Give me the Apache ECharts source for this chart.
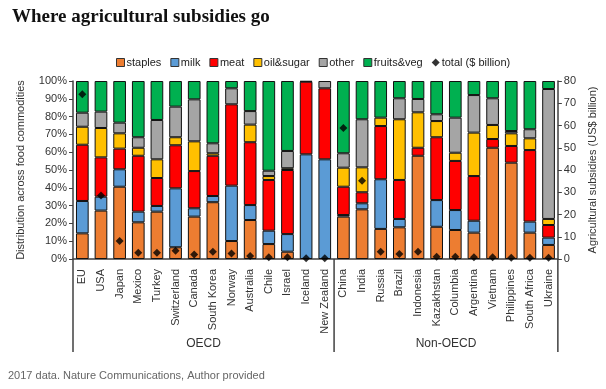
<!DOCTYPE html>
<html>
<head>
<meta charset="utf-8">
<script src="https://cdn.jsdelivr.net/npm/echarts@6/dist/echarts.min.js"></script>
<style>
html,body{margin:0;padding:0;background:#fff;}
#c{width:606px;height:389px;}
</style>
</head>
<body>
<div id="c"></div>
<script>
const countries = ['EU','USA','Japan','Mexico','Turkey','Switzerland','Canada','South Korea','Norway','Australia','Chile','Israel','Iceland','New Zealand',
  'China','India','Russia','Brazil','Indonesia','Kazakhstan','Columbia','Argentina','Vietnam','Philippines','South Africa','Ukraine'];
const oecdCount = 14;
const staples   = [14.4,27.2,40.6,20.6,26.6, 6.6,23.8,31.9,10.1,21.9, 8.4, 4.1, 0, 0,  23.8,27.9,16.9,17.8,58.0,18.1,16.3,14.8,62.5,54.1,14.8, 7.9];
const milk      = [18.2, 7.8, 9.8, 6.0, 3.2,33.1, 4.7, 3.5,31.1, 8.4, 7.5, 9.9,58.8,56.0, 0.9, 3.4,27.9, 4.7, 0,  15.0,11.2, 6.7, 0,   0,   6.2, 4.1];
const meat      = [31.6,22.1,11.6,31.4,15.7,24.2,20.9,22.6,45.7,35.3,28.5,36.0,40.8,39.9,15.9, 6.2,29.9,21.9, 4.5,35.3,27.6,25.1, 4.9, 9.4,40.2, 7.1];
const oilSugar  = [10.1,16.5, 8.6, 4.5,10.5, 4.5,16.7, 1.4, 0,   9.9, 2.2, 1.0, 0,   0,  10.7,14.0, 4.7,34.1,19.9, 9.1, 4.6,24.4, 7.9, 7.1, 6.6, 3.4];
const other     = [ 7.9, 9.2, 6.0, 5.9,22.1,17.2,23.6, 5.6, 9.0, 7.6, 3.0, 9.7, 0.4, 4.1, 8.1,27.0, 0,  11.8, 7.5, 3.8,19.7,21.1,15.0, 1.3, 5.1,73.0];
const fruitsVeg = [17.8,17.2,23.4,31.6,21.9,14.4,10.3,35.0, 4.1,16.9,50.4,39.3, 0,   0,  40.6,21.5,20.6, 9.7,10.1,18.7,20.6, 7.9, 9.7,28.1,27.1, 4.5];
const totals    = [74.0,28.5, 8.1, 2.8, 2.8, 3.7, 2.0, 3.3, 2.5, 1.3, 0.8, 0.8, 0.3, 0.3,58.9,35.2, 3.3, 2.2, 3.3, 1.0, 1.0, 0.8, 0.8, 0.6, 0.6, 0.6];
const pctTicks = [0,10,20,30,40,50,60,70,80,90,100];
const usdTicks = [0,10,20,30,40,50,60,70,80];

const barSeries = [
  ['staples', staples, '#ED7D31'],
  ['milk', milk, '#5B9BD5'],
  ['meat', meat, '#FF0000'],
  ['oil&sugar', oilSugar, '#FFC000'],
  ['other', other, '#A5A5A5'],
  ['fruits&veg', fruitsVeg, '#00B050']
];
const axisColor = '#404040';
const txt = '#333';
const font = 'Liberation Sans, Arial, sans-serif';

const chart = echarts.init(document.getElementById('c'), null, {renderer:'canvas'});
const series = barSeries.map(([name, arr, color]) => ({
  name, type:'bar', stack:'s', barWidth:'68%',
  data: arr.map(v => v === 0 ? '-' : v),
  itemStyle:{color, borderColor:'#111', borderWidth:1},
  emphasis:{disabled:true}
}));
series.push({
  name:'total ($ billion)', type:'scatter', yAxisIndex:1,
  symbol:'diamond', symbolSize:8, data: totals,
  itemStyle:{color:'#000'}, z:10
});

chart.setOption({
  animation:false,
  textStyle:{fontFamily:font},
  title:[
    {text:'Where agricultural subsidies go', left:7, top:3,
     textStyle:{fontFamily:'Liberation Serif, serif', fontWeight:'bold', fontSize:19, color:'#111'}},
    {text:'2017 data. Nature Communications, Author provided', left:3, top:365,
     textStyle:{fontFamily:font, fontWeight:'normal', fontSize:11, color:'#666'}}
  ],
  legend:{
    left:111, top:52, itemWidth:8, itemHeight:8, itemGap:9,
    textStyle:{fontSize:11, color:'#222', fontFamily:font, padding:[0,0,0,-3]},
    data:[
      ...barSeries.map(([n]) => ({name:n, icon:'rect', itemStyle:{borderColor:'#333', borderWidth:1}})),
      {name:'total ($ billion)', icon:'diamond'}
    ]
  },
  grid:{left:73, right:46, top:81, bottom:130},
  xAxis:{
    type:'category', data:countries,
    axisLine:{lineStyle:{color:axisColor, width:1.5}},
    axisTick:{show:false},
    axisLabel:{rotate:90, fontSize:11, color:txt, margin:10, interval:0}
  },
  yAxis:[
    {type:'value', min:0, max:100, interval:10,
     name:'Distribution across food commodities', nameLocation:'middle', nameRotate:90, nameGap:47,
     nameTextStyle:{fontSize:11, color:txt},
     axisLine:{show:true, lineStyle:{color:axisColor, width:1.5}},
     axisTick:{show:true, length:4, lineStyle:{color:axisColor}},
     splitLine:{show:false},
     axisLabel:{fontSize:11, color:txt, margin:6,
       customValues: pctTicks, formatter: v => v + '%'}},
    {type:'value', min:0, max:80, interval:10, position:'right',
     name:'Agricultural subsidies (US$ billion)', nameLocation:'middle', nameRotate:90, nameGap:27,
     nameTextStyle:{fontSize:11, color:txt},
     axisLine:{show:true, lineStyle:{color:axisColor, width:1.5}},
     axisTick:{show:true, length:4, lineStyle:{color:axisColor}},
     splitLine:{show:false},
     axisLabel:{fontSize:11, color:txt, margin:6, customValues: usdTicks}}
  ],
  series
});

// group separators and labels, positioned from the axis scale
const px = i => chart.convertToPixel({xAxisIndex:0}, i);
const yBase = chart.convertToPixel({yAxisIndex:0}, 0);
const step = px(1) - px(0);
const xLeft = px(0) - step/2;
const xRight = px(countries.length-1) + step/2;
const xSep = (px(oecdCount-1) + px(oecdCount)) / 2;
const yEnd = 352;
const lineStyle = {stroke:axisColor, lineWidth:1.5};
chart.setOption({
  graphic:[
    {type:'line', shape:{x1:xLeft, y1:yBase, x2:xLeft, y2:yEnd}, style:lineStyle, silent:true},
    {type:'line', shape:{x1:xSep, y1:yBase, x2:xSep, y2:yEnd}, style:lineStyle, silent:true},
    {type:'line', shape:{x1:xRight, y1:yBase, x2:xRight, y2:yEnd}, style:lineStyle, silent:true},
    {type:'text', x:(px(0)+px(oecdCount-1))/2, y:344,
     style:{text:'OECD', fontSize:12, fontFamily:font, fill:txt, align:'center', verticalAlign:'middle'}},
    {type:'text', x:(px(oecdCount)+px(countries.length-1))/2, y:344,
     style:{text:'Non-OECD', fontSize:12, fontFamily:font, fill:txt, align:'center', verticalAlign:'middle'}}
  ]
});
</script>
</body>
</html>
